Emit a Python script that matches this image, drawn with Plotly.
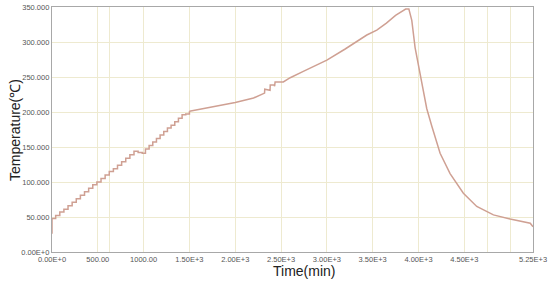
import plotly.graph_objects as go

# stepped heating stage (time where each level starts, level)
step_time = [0, 0, 40, 85, 130, 175, 220, 265, 310, 355, 400, 445, 490, 535, 580,
             625, 670, 715, 760, 805, 850, 895, 940, 985, 1020, 1060, 1100, 1140,
             1180, 1220, 1260, 1300, 1340, 1380, 1420, 1460, 1500]
step_temp = [26, 48, 52, 57, 61, 66, 71, 76, 81, 86, 91, 96, 100, 105, 110,
             115, 119, 124, 129, 134, 139, 144, 142, 141, 147, 152, 157, 162,
             167, 172, 177, 181, 186, 191, 196, 197, 201]

# rest of the curve
curve_time = [1500, 1800, 2000, 2200, 2320, 2322, 2370, 2372, 2380, 2382, 2425,
              2430, 2435, 2525, 2600, 2743, 2850, 3000, 3200, 3436, 3545, 3650,
              3750, 3830, 3860, 3895, 3927, 3963, 3999, 4036, 4090, 4145, 4236,
              4345, 4490, 4636, 4818, 5000, 5182, 5220, 5250]
curve_temp = [201, 208, 213.5, 220, 227, 232.5, 232, 231, 231, 238.5, 238.5,
              237, 243, 243, 249, 258, 265, 274, 290, 310, 317, 327,
              338, 345, 347, 347, 331, 292, 268, 245, 205, 180, 141,
              112, 84, 65, 53, 47, 42, 41, 36]

x_ticks = [0, 500, 625, 1000, 1500, 2000, 2500, 3000, 3500, 4000, 4500, 4750, 5000, 5250]
x_labels = ['0.00E+0', '500.00', '', '1000.00', '1.50E+3', '2.00E+3', '2.50E+3',
            '3.00E+3', '3.50E+3', '4.00E+3', '4.50E+3', '', '', '5.25E+3']
y_ticks = [0, 50, 100, 150, 200, 250, 300, 350]
y_labels = ['0.00E+0', '50.000', '100.000', '150.000', '200.000', '250.000',
            '300.000', '350.000']

line_col = '#cfa093'
grid_col = '#eeead0'

fig = go.Figure()
fig.add_trace(go.Scatter(x=step_time, y=step_temp, mode='lines',
                         line=dict(color=line_col, width=1.5, shape='hv'),
                         showlegend=False))
fig.add_trace(go.Scatter(x=curve_time, y=curve_temp, mode='lines',
                         line=dict(color=line_col, width=1.5),
                         showlegend=False))

axis_style = dict(tickfont=dict(size=7.5), showgrid=True, gridcolor=grid_col,
                  gridwidth=1.2, zeroline=False, showline=True, linecolor='#a8a8a8',
                  linewidth=1.2, mirror=True, ticks='', automargin=False)

fig.update_layout(
    width=550, height=287,
    margin=dict(l=52, r=17, t=7, b=35),
    paper_bgcolor='white', plot_bgcolor='white',
    font=dict(family='Liberation Sans, Arial, sans-serif', color='#555'),
    xaxis=dict(range=[0, 5250], tickvals=x_ticks, ticktext=x_labels, **axis_style),
    yaxis=dict(range=[0, 350], tickvals=y_ticks, ticktext=y_labels, **axis_style),
)

# axis titles placed by hand
fig.add_annotation(text='Time(min)', xref='paper', yref='paper', x=0.524, y=-0.078,
                   xanchor='center', yanchor='middle', showarrow=False,
                   font=dict(size=14, color='#222'))
fig.add_annotation(text='Temperature(℃)', xref='paper', yref='paper', x=-0.078, y=0.5,
                   xanchor='center', yanchor='middle', showarrow=False, textangle=-90,
                   font=dict(size=14, color='#222'))

# drop the default 8px body margin so the figure sits at the window corner
fig.write_html('out.html', config={'displayModeBar': False},
               post_script="document.body.style.margin='0';")
